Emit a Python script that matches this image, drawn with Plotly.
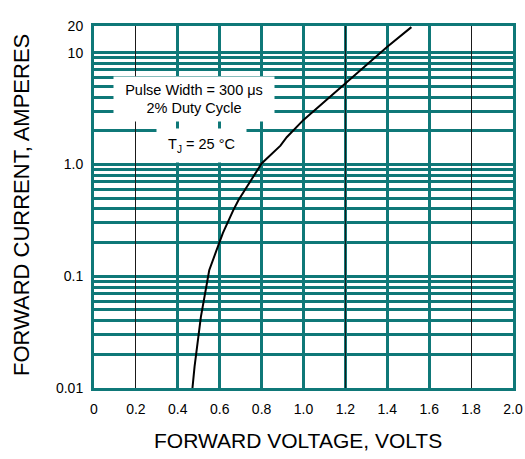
import math
import plotly.graph_objects as go

# Forward voltage (V) vs forward current (A)
vf = [0.47, 0.48, 0.51, 0.55, 0.585, 0.615, 0.665, 0.69, 0.745, 0.80, 0.89, 0.92, 1.0, 1.2, 1.4, 1.515]
i_f = [0.01, 0.0155, 0.043, 0.113, 0.171, 0.243, 0.39, 0.48, 0.70, 1.02, 1.47, 1.75, 2.5, 5.3, 11.3, 16.9]

x_ticks = [0, 0.2, 0.4, 0.6, 0.8, 1.0, 1.2, 1.4, 1.6, 1.8, 2.0]
x_labels = ["0", "0.2", "0.4", "0.6", "0.8", "1.0", "1.2", "1.4", "1.6", "1.8", "2.0"]
x_grid_teal = [0.4, 0.6, 0.8, 1.0, 1.2, 1.4, 1.6]
x_grid_dark = [0.2, 1.2, 1.8]

y_top = 17.3
y_grid = [m * d for d in (0.01, 0.1, 1.0) for m in range(1, 10)] + [10.0]
y_label_vals = [0.01, 0.1, 1.0, 10.0, y_top]
y_labels = ["0.01", "0.1", "1.0", "10", "20"]

TEAL = "#0f7878"
FONT = "Liberation Sans, Arial, sans-serif"

W, H = 525, 459
L, R, T, B = 94, 12, 26, 459 - 388

fig = go.Figure()
fig.add_trace(go.Scatter(x=vf, y=i_f, mode="lines", line=dict(color="rgba(0,0,0,0)"),
                         xaxis="x", yaxis="y", showlegend=False, hoverinfo="skip"))
fig.add_trace(go.Scatter(x=vf, y=i_f, mode="lines", line=dict(color="rgba(0,0,0,0)"),
                         xaxis="x2", yaxis="y2", showlegend=False, hoverinfo="skip"))
fig.add_trace(go.Scatter(x=vf, y=i_f, mode="lines", line=dict(color="black", width=2),
                         xaxis="x3", yaxis="y2", showlegend=False))

xr = [0, 2.0]
yr = [math.log10(0.01), math.log10(y_top)]
fig.update_layout(
    width=W, height=H,
    margin=dict(l=L, r=R, t=T, b=B),
    paper_bgcolor="white", plot_bgcolor="white",
    font=dict(family=FONT, color="black"),
    xaxis=dict(range=xr, tickvals=x_ticks, ticktext=x_labels, showgrid=False, zeroline=False,
               ticks="outside", ticklen=6, tickcolor="rgba(0,0,0,0)", automargin=False,
               tickfont=dict(size=14, family=FONT),
               showline=True, linecolor=TEAL, linewidth=3, mirror=True),
    xaxis2=dict(range=xr, overlaying="x", tickvals=x_grid_teal, showticklabels=False,
                showgrid=True, gridcolor=TEAL, gridwidth=3, zeroline=False, ticks="",
                automargin=False),
    xaxis3=dict(range=xr, overlaying="x", tickvals=x_grid_dark, showticklabels=False,
                showgrid=True, gridcolor="#1a1a1a", gridwidth=1.3, zeroline=False, ticks="",
                automargin=False),
    yaxis=dict(type="log", range=yr, tickvals=y_label_vals, ticktext=y_labels, showgrid=False,
               zeroline=False, ticks="outside", ticklen=5, tickcolor="rgba(0,0,0,0)",
               tickfont=dict(size=14, family=FONT), automargin=False,
               showline=True, linecolor=TEAL, linewidth=3, mirror=True),
    yaxis2=dict(type="log", range=yr, overlaying="y", tickvals=y_grid, showticklabels=False,
                showgrid=True, gridcolor=TEAL, gridwidth=3, zeroline=False, ticks="",
                automargin=False),
)

pw, ph = W - L - R, H - T - B


def px_to_paper(px, py):
    # page pixel coordinates -> paper coordinates
    return (px - L) / pw, (H - B - py) / ph


tx, ty = px_to_paper(298, 440)
fig.add_annotation(x=tx, y=ty, xref="paper", yref="paper", text="FORWARD VOLTAGE, VOLTS",
                   xanchor="center", yanchor="middle",
                   showarrow=False, font=dict(size=21, family=FONT))
tx, ty = px_to_paper(21, 205)
fig.add_annotation(x=tx, y=ty, xref="paper", yref="paper", text="FORWARD CURRENT, AMPERES",
                   xanchor="center", yanchor="middle",
                   textangle=-90, showarrow=False, font=dict(size=22, family=FONT))

fig.add_annotation(x=0.476, y=math.log10(3.84), xref="x", yref="y",
                   text="Pulse Width = 300 μs<br>2% Duty Cycle", showarrow=False,
                   bgcolor="white", width=158, height=42, font=dict(size=14.5, family=FONT))
fig.add_annotation(x=0.512, y=math.log10(1.47), xref="x", yref="y",
                   text="T<sub>J</sub> = 25 °C", showarrow=False,
                   bgcolor="white", width=87, height=31, font=dict(size=14.5, family=FONT))

fig.write_html(
    "out.html",
    config={"displayModeBar": False},
    post_script="document.body.style.margin='0px';document.body.style.overflow='hidden';",
)
